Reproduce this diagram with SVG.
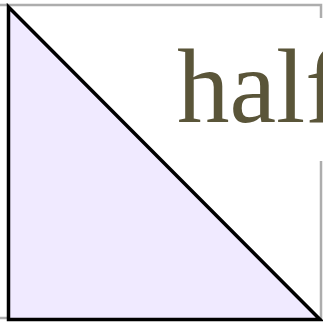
<svg xmlns="http://www.w3.org/2000/svg" width="323" height="326" viewBox="0 0 323 326">
<style>
.frame{fill:none;stroke:#adadad;stroke-width:2.5}
.tri{fill:#f0eaff;stroke:#000;stroke-width:3.5;stroke-linejoin:miter}
.lbl{font-family:"Liberation Serif","Times New Roman",serif;font-size:105px;fill:#5a5539}
</style>
<rect fill="#fff" x="0" y="0" width="323" height="326"/>
<g id="frame"><rect class="frame" x="-10" y="5" width="331" height="313"/></g>
<g id="triangle"><polygon class="tri" points="8.5,7 8.5,319.5 320,319.5"/></g>
<g id="label">
<rect fill="#fff" x="165" y="18" width="170" height="143"/>
<text class="lbl" x="177" y="122">half</text>
</g>
</svg>
